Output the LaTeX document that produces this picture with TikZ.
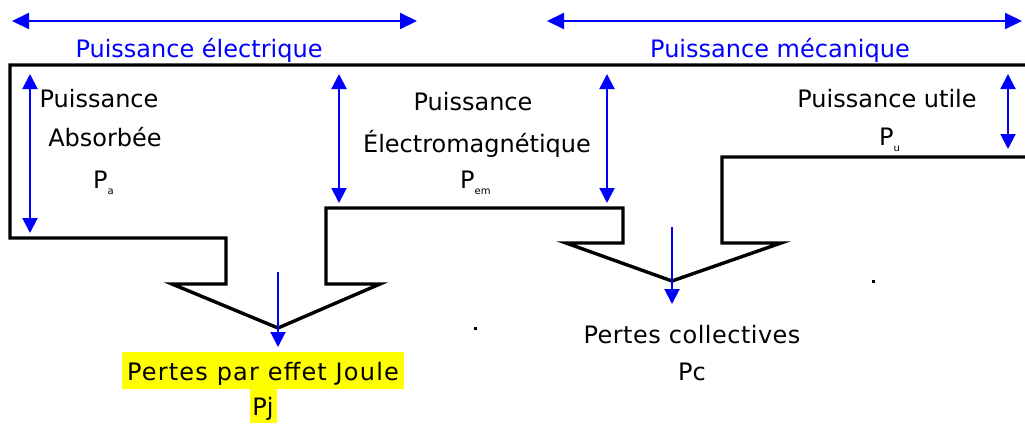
\documentclass[tikz,border=0pt]{standalone}
\usepackage{fontspec}
\setmainfont{DejaVu Sans}
\usetikzlibrary{arrows.meta}
\definecolor{hlyellow}{RGB}{255,255,0}
\definecolor{lineblue}{RGB}{0,0,255}
\newcommand{\subsm}[1]{\raisebox{-6pt}{\fontsize{10}{10}\selectfont #1}}
\begin{document}
\begin{tikzpicture}[x=1pt,y=-1pt,
  outline/.style={line width=3.4pt, line join=miter},
  dimarrow/.style={lineblue, line width=2pt, {Triangle[width=15pt,length=15pt]}-{Triangle[width=15pt,length=15pt]}},
  toparrow/.style={lineblue, line width=2pt, {Triangle[width=16pt,length=17pt]}-{Triangle[width=16pt,length=17pt]}},
  lossarrow/.style={lineblue, line width=2pt, -{Triangle[width=15pt,length=15pt]}},
  lbl/.style={font=\fontsize{24}{28}\selectfont, anchor=base, inner sep=0pt},
  bluelbl/.style={lbl, text=lineblue},
]
\useasboundingbox (0,0) rectangle (1025,423);
\fill[white] (0,0) rectangle (1025,423);

% top arrows
\coordinate (eL) at (12,21); \coordinate (eR) at (417,21);
\coordinate (mL) at (547,21); \coordinate (mR) at (1022,21);
\draw[toparrow] (eL) -- (eR);
\draw[toparrow] (mL) -- (mR);
\node[bluelbl] (elec) at (199,57) {Puissance électrique};
\node[bluelbl] (meca) at (780,57) {Puissance mécanique};

% outline of the power flow
\draw[outline] (1025,65) -- (10,65) -- (10,238) -- (226,238) -- (226,284) -- (172,284)
  -- (278,328) -- (380,284) -- (326,284) -- (326,208) -- (623,208) -- (623,243)
  -- (566,243) -- (672,281) -- (781,243) -- (722,243) -- (722,157) -- (1025,157);

% vertical dimension arrows
\coordinate (aT) at (30,74);   \coordinate (aB) at (30,233);
\coordinate (b1T) at (339,74); \coordinate (b1B) at (339,203);
\coordinate (b2T) at (607,74); \coordinate (b2B) at (607,203);
\coordinate (uT) at (1008,74); \coordinate (uB) at (1008,149);
\draw[dimarrow] (aT) -- (aB);
\draw[dimarrow] (b1T) -- (b1B);
\draw[dimarrow] (b2T) -- (b2B);
\draw[dimarrow] (uT) -- (uB);

% loss arrows
\coordinate (jT) at (278,272); \coordinate (jB) at (278,347);
\coordinate (cT) at (672,227); \coordinate (cB) at (672,304);
\draw[lossarrow] (jT) -- (jB);
\draw[lossarrow] (cT) -- (cB);

% labels
\node[lbl] (pa1) at (99,107) {Puissance};
\node[lbl] (pa2) at (105,146) {Absorbée};
\node[lbl, anchor=base west] (pa3) at (93,188) {P\subsm{a}};

\node[lbl] (pem1) at (473,110) {Puissance};
\node[lbl] (pem2) at (477,152) {Électromagnétique};
\node[lbl, anchor=base west] (pem3) at (460,188) {P\subsm{em}};

\node[lbl] (pu1) at (887,107) {Puissance utile};
\node[lbl, anchor=base west] (pu2) at (879,145) {P\subsm{u}};

% Joule losses (highlighted)
\fill[hlyellow] (122,352) rectangle (404,389);
\fill[hlyellow] (250,389) rectangle (277,423);
\node[lbl] (pj1) at (263,380) {\addfontfeatures{LetterSpace=5}Pertes par effet Joule};
\node[lbl] (pj2) at (263,415) {Pj};

% collective losses
\node[lbl] (pc1) at (692,343) {\addfontfeatures{LetterSpace=2}Pertes collectives};
\node[lbl] (pc2) at (692,380) {Pc};

% small stray dots
\fill (473.5,326.5) rectangle (476.5,329.5);
\fill (871.5,279.5) rectangle (874.5,282.5);
\end{tikzpicture}
\end{document}
